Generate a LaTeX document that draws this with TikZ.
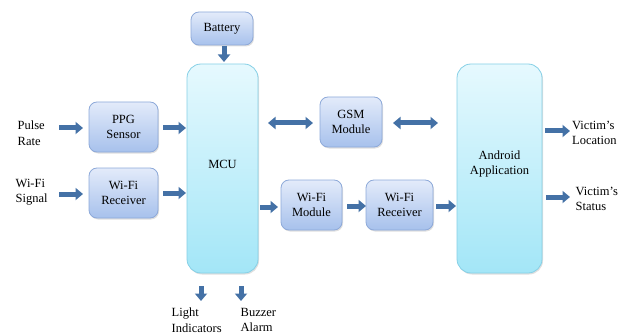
\documentclass[tikz,border=0pt]{standalone}
\usepackage{fontspec}
\setmainfont{Liberation Serif}
\usetikzlibrary{arrows.meta,shadows}
\definecolor{arrowblue}{HTML}{4471A6}
\definecolor{boxtop}{HTML}{E3EBFA}
\definecolor{boxbot}{HTML}{A7C1EC}
\definecolor{boxedge}{HTML}{8DA9D9}
\definecolor{cyantop}{HTML}{E6F9FE}
\definecolor{cyanbot}{HTML}{A3E6F7}
\definecolor{cyanedge}{HTML}{86D0E6}
\tikzset{
  blk/.style={draw=boxedge, line width=0.8pt, rounded corners=8pt, top color=boxtop, bottom color=boxbot,
     align=center, font=\fontsize{12.5}{15.5}\selectfont, inner sep=0pt,
     drop shadow={shadow xshift=1pt, shadow yshift=-1.5pt, opacity=0.25}},
  bigblk/.style={draw=cyanedge, line width=0.8pt, rounded corners=14pt, top color=cyantop, bottom color=cyanbot,
     drop shadow={shadow xshift=1pt, shadow yshift=-1.5pt, opacity=0.25}},
  bigtxt/.style={align=center, font=\fontsize{12.5}{15.5}\selectfont, inner sep=0pt},
  lbl/.style={align=left, font=\fontsize{12.5}{15.5}\selectfont, inner sep=0pt},
  barrow/.style={draw=arrowblue, line width=5pt, -{Triangle[width=12pt,length=7.5pt]}},
  darrow/.style={draw=arrowblue, line width=5pt, {Triangle[width=12pt,length=7.5pt]}-{Triangle[width=12pt,length=7.5pt]}},
}
\begin{document}
\begin{tikzpicture}[x=1pt,y=-1pt]
\useasboundingbox (0,0) rectangle (626,334);
% blocks
\node[blk, minimum width=62pt, minimum height=33pt] (bat) at (222,28.5) {Battery};
\node[bigblk, minimum width=71pt, minimum height=209pt] (mcu) at (222.5,168.5) {};
\node[bigtxt] (mcut) at (222.5,164) {MCU};
\node[blk, minimum width=69pt, minimum height=50pt] (ppg) at (123.5,127) {PPG\\Sensor};
\node[blk, minimum width=69pt, minimum height=50pt] (wrl) at (123.5,193) {Wi-Fi\\Receiver};
\node[blk, minimum width=62pt, minimum height=50pt] (gsm) at (351,122) {GSM\\Module};
\node[blk, minimum width=61pt, minimum height=50pt] (wfm) at (311.5,205) {Wi-Fi\\Module};
\node[blk, minimum width=67pt, minimum height=50pt] (wrr) at (399.5,205) {Wi-Fi\\Receiver};
\node[bigblk, minimum width=85pt, minimum height=209pt] (app) at (499.5,168.5) {};
\node[bigtxt] (appt) at (499.5,164) {Android\\Application};
% labels
\node[lbl, anchor=west] (pulse) at (17.5,133) {Pulse\\Rate};
\node[lbl, anchor=west] (sig) at (15.5,192) {Wi-Fi\\Signal};
\node[lbl, anchor=west] (loc) at (572,133) {Victim's\\Location};
\node[lbl, anchor=west] (sta) at (575.5,199) {Victim's\\Status};
\node[lbl, anchor=west] (light) at (171.5,320) {Light\\Indicators};
\node[lbl, anchor=west] (buzz) at (240.5,320) {Buzzer\\Alarm};
% arrow end coordinates
\coordinate (a1s) at (59,128); \coordinate (a1e) at (83,128);
\coordinate (a2s) at (59,194); \coordinate (a2e) at (83,194);
\coordinate (a3s) at (163,128); \coordinate (a3e) at (186,128);
\coordinate (a4s) at (163,193); \coordinate (a4e) at (186,193);
\coordinate (a5s) at (224,46); \coordinate (a5e) at (224,62);
\coordinate (a6s) at (268,123); \coordinate (a6e) at (313,123);
\coordinate (a7s) at (393,123); \coordinate (a7e) at (438,123);
\coordinate (a8s) at (260,207); \coordinate (a8e) at (278,207);
\coordinate (a9s) at (347,206); \coordinate (a9e) at (366,206);
\coordinate (a10s) at (436,206); \coordinate (a10e) at (456,206);
\coordinate (a11s) at (545,131); \coordinate (a11e) at (570,131);
\coordinate (a12s) at (546,197); \coordinate (a12e) at (570,197);
\coordinate (a13s) at (201,286); \coordinate (a13e) at (201,301);
\coordinate (a14s) at (241,286); \coordinate (a14e) at (241,301);
% arrows
\draw[barrow] (a1s) -- (a1e);
\draw[barrow] (a2s) -- (a2e);
\draw[barrow] (a3s) -- (a3e);
\draw[barrow] (a4s) -- (a4e);
\draw[barrow] (a5s) -- (a5e);
\draw[darrow] (a6s) -- (a6e);
\draw[darrow] (a7s) -- (a7e);
\draw[barrow] (a8s) -- (a8e);
\draw[barrow] (a9s) -- (a9e);
\draw[barrow] (a10s) -- (a10e);
\draw[barrow] (a11s) -- (a11e);
\draw[barrow] (a12s) -- (a12e);
\draw[barrow] (a13s) -- (a13e);
\draw[barrow] (a14s) -- (a14e);
\end{tikzpicture}
\end{document}
